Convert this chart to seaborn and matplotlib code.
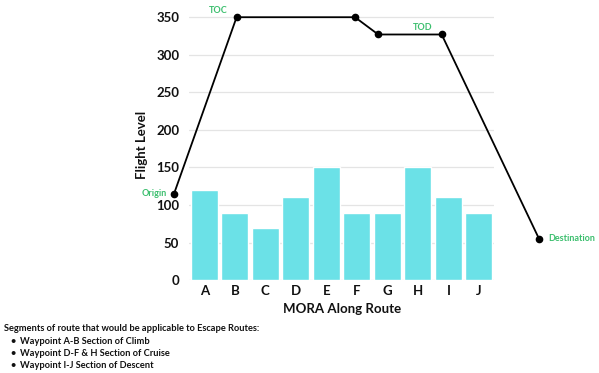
import matplotlib
matplotlib.use("Agg")
import matplotlib.pyplot as plt
import seaborn as sns
import pandas as pd

# Data
categories = ["A", "B", "C", "D", "E", "F", "G", "H", "I", "J"]
mora = [120, 90, 70, 110, 150, 90, 90, 150, 110, 90]

route_x = [-0.99, 1.06, 4.94, 5.70, 7.78, 10.97]
route_fl = [115, 350, 350, 327, 327, 55]
route_labels = ["Origin", "TOC", "", "", "TOD", "Destination"]

yticks = [0, 50, 100, 150, 200, 250, 300, 350]
notes_title = "Segments of route that would be applicable to Escape Routes:"
notes = ["Waypoint A-B Section of Climb",
         "Waypoint D-F & H Section of Cruise",
         "Waypoint I-J Section of Descent"]

sns.set_theme(style="white")
plt.rcParams['font.family'] = ['Lato', 'DejaVu Sans']

fig = plt.figure(figsize=(5.99, 3.73), dpi=100)
ax = fig.add_axes([0.3155, 0.249, 0.5095, 0.725])

df = pd.DataFrame({"cat": categories, "mora": mora})
sns.barplot(data=df, x="cat", y="mora", color="#6be1e7", saturation=1,
            width=0.88, ax=ax, zorder=2)

ax.plot(route_x, route_fl, color="black", lw=1.3, marker="o", ms=4.5,
        clip_on=False, zorder=5)

green = "#3cbf6e"
offsets = {"Origin": (-5, 0, "right", "center"),
           "TOC": (-6.5, 5, "right", "center"),
           "TOD": (-6.5, 5, "right", "center"),
           "Destination": (6.5, 0, "left", "center")}
for x, y, lab in zip(route_x, route_fl, route_labels):
    if lab:
        dx, dy, ha, va = offsets[lab]
        ax.annotate(lab, (x, y), xytext=(dx, dy), textcoords="offset points",
                    ha=ha, va=va, color=green, fontsize=6.5, fontweight="bold",
                    annotation_clip=False)

ax.set_xlim(-0.5, 9.5)
ax.set_ylim(0, 360)
ax.set_yticks(yticks)
ax.yaxis.grid(True, color="#e4e4e4", lw=0.9, zorder=0)
ax.set_axisbelow(True)
for s in ax.spines.values():
    s.set_visible(False)
ax.tick_params(axis="both", length=0, labelsize=9.5, colors="#111111")
ax.tick_params(axis="y", pad=7)
for t in ax.get_xticklabels() + ax.get_yticklabels():
    t.set_fontweight("bold")
ax.set_xlabel("MORA Along Route", fontsize=9.5, fontweight="bold", color="#111111", labelpad=4)
ax.set_ylabel("Flight Level", fontsize=9.5, fontweight="bold", color="#111111", labelpad=6)

fs = 6.7
fig.text(0.006, 0.118, notes_title, fontsize=fs, fontweight="bold", color="#111111", va="center")
for i, n in enumerate(notes):
    y = 0.118 - (i + 1) * 0.033
    fig.text(0.018, y, "\u2022", fontsize=fs, fontweight="bold", color="#111111", va="center")
    fig.text(0.033, y, n, fontsize=fs, fontweight="bold", color="#111111", va="center")

fig.savefig("out.png", dpi=100)
